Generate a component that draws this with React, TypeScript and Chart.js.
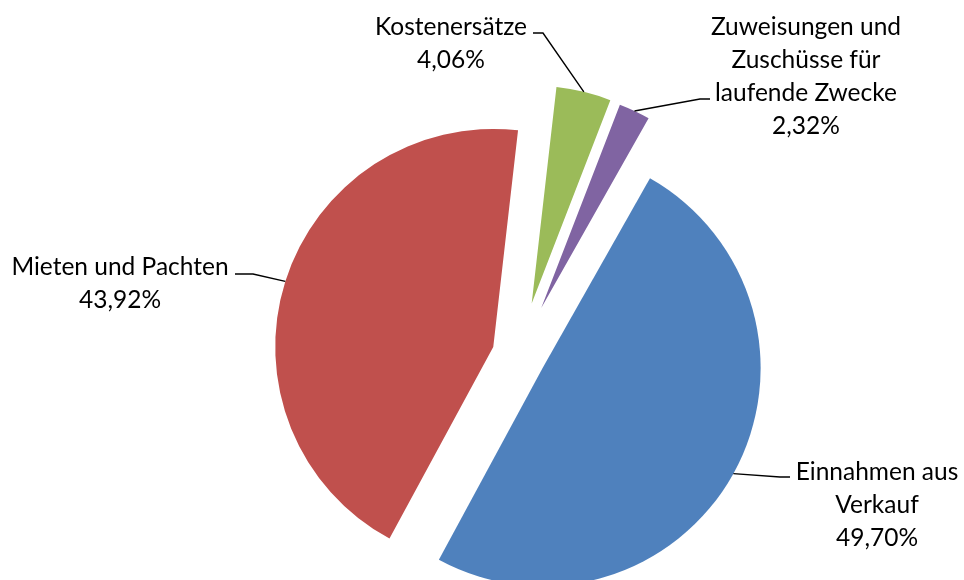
import React, { useEffect, useRef } from "react";
import { Chart, registerables } from "chart.js";

Chart.register(...registerables);

// ---- data ----
const categories = [
  "Einnahmen aus Verkauf",
  "Mieten und Pachten",
  "Kostenersätze",
  "Zuweisungen und Zuschüsse für laufende Zwecke",
];
const values = [49.7, 43.92, 4.06, 2.32];
const labelLines = [
  ["Einnahmen aus", "Verkauf"],
  ["Mieten und Pachten"],
  ["Kostenersätze"],
  ["Zuweisungen und", "Zuschüsse für", "laufende Zwecke"],
];
const percentLabels = values.map((v) => v.toFixed(2).replace(".", ",") + "%");

// ---- styles / layout ----
const colors = ["#4F81BD", "#C0504D", "#9BBB59", "#8064A2"];
const explodePx = [27, 27, 53, 52];
const textCenterX = [877, 120, 451, 806];
const textFirstY = [472, 267, 27, 27];
const elbowPts = [
  [780, 477],
  [253, 274],
  [543, 33],
  [700, 99],
];
const endPts = [
  [790, 477],
  [235, 274],
  [533, 33],
  [710, 99],
];
const LINE_H = 33;
const FONT = "24.5px Lato";

// explode each slice by a fixed pixel distance along its bisector (radius unchanged)
const explodePlugin = {
  id: "explode",
  afterUpdate(chart: any) {
    chart.getDatasetMeta(0).data.forEach((el: any, i: number) => {
      if (el.__exploded) return;
      const orig = el.draw;
      el.draw = function (ctx: CanvasRenderingContext2D, area: any) {
        const h = (this.startAngle + this.endAngle) / 2;
        const d = explodePx[i];
        ctx.save();
        ctx.translate(Math.cos(h) * d, Math.sin(h) * d);
        orig.call(this, ctx, area);
        ctx.restore();
      };
      el.__exploded = true;
    });
  },
};

const labelPlugin = {
  id: "pieLabels",
  afterDatasetsDraw(chart: any) {
    const ctx = chart.ctx;
    const meta = chart.getDatasetMeta(0);
    ctx.save();
    meta.data.forEach((arc: any, i: number) => {
      const { x, y, startAngle, endAngle, outerRadius } = arc;
      const h = (startAngle + endAngle) / 2;
      const r = explodePx[i] + outerRadius;
      const px = x + Math.cos(h) * r;
      const py = y + Math.sin(h) * r;
      ctx.beginPath();
      ctx.strokeStyle = "#000";
      ctx.lineWidth = 1.4;
      ctx.moveTo(px, py);
      ctx.lineTo(elbowPts[i][0], elbowPts[i][1]);
      ctx.lineTo(endPts[i][0], endPts[i][1]);
      ctx.stroke();

      ctx.fillStyle = "#000";
      ctx.font = FONT;
      ctx.textAlign = "center";
      ctx.textBaseline = "middle";
      const lines = [...labelLines[i], percentLabels[i]];
      lines.forEach((ln, k) => {
        ctx.fillText(ln, textCenterX[i], textFirstY[i] + k * LINE_H);
      });
    });
    ctx.restore();
  },
};

export default function App() {
  const ref = useRef<HTMLCanvasElement>(null);
  useEffect(() => {
    if (!ref.current) return;
    const chart = new Chart(ref.current, {
      type: "pie",
      data: {
        labels: categories,
        datasets: [
          {
            data: values,
            backgroundColor: colors,
            borderWidth: 0,
          },
        ],
      },
      options: {
        responsive: false,
        animation: false,
        devicePixelRatio: 1,
        events: [],
        rotation: 29.5,
        radius: 218,
        layout: { padding: { left: 74, right: 0, top: 130, bottom: 0 } },
        plugins: {
          legend: { display: false },
          tooltip: { enabled: false },
        },
      } as any,
      plugins: [explodePlugin, labelPlugin],
    });
    return () => chart.destroy();
  }, []);
  return (
    <div style={{ position: "absolute", left: 0, top: 0, width: 964, height: 580, background: "#fff" }}>
      <canvas ref={ref} width={964} height={580} style={{ width: 964, height: 580 }} />
    </div>
  );
}
